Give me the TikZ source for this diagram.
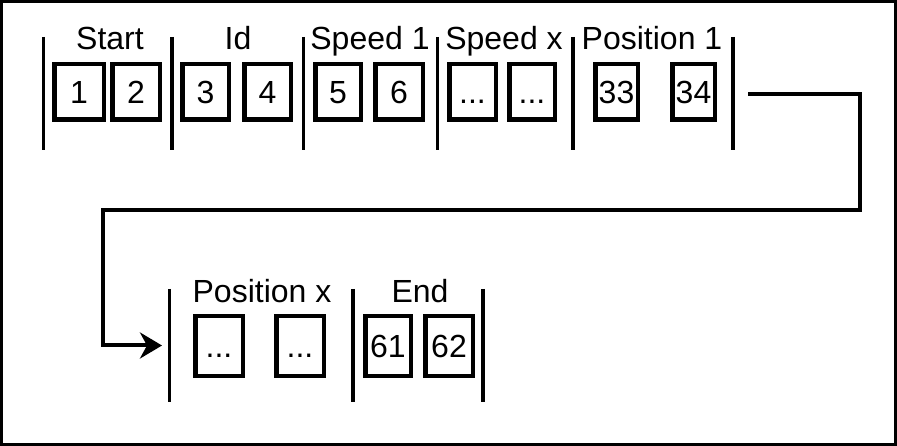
\documentclass[tikz,border=0pt]{standalone}
\usepackage{fontspec}
\setmainfont{Liberation Sans}
\usetikzlibrary{arrows.meta}
\begin{document}
\begin{tikzpicture}[x=1pt,y=-1pt,
  cell/.style={draw, line width=4.5pt, inner sep=0pt, minimum height=55.5pt,
    font=\fontsize{32}{36}\selectfont, text height=23pt, text depth=0pt},
  cellb/.style={cell, minimum height=59.5pt},
  lbl/.style={anchor=base, inner sep=0pt, font=\fontsize{32}{36}\selectfont},
  sep/.style={line width=3.5pt},
  flow/.style={line width=4pt, -{Stealth[length=22pt,width=26pt,inset=7pt]}}]
\useasboundingbox (0,0) rectangle (897,446);
\draw[line width=3pt] (1.5,1.5) rectangle (895.5,444.5);
% top row separators
\foreach \n/\x in {t0/43.5,t1/172,t2/303.5,t3/437.5,t4/573,t5/733}{
  \coordinate (\n a) at (\x,37);
  \coordinate (\n b) at (\x,150);
  \draw[sep] (\n a) -- (\n b);
}
% bottom row separators
\foreach \n/\x in {u0/169.5,u1/353,u2/483}{
  \coordinate (\n a) at (\x,289);
  \coordinate (\n b) at (\x,402);
  \draw[sep] (\n a) -- (\n b);
}
% top row labels
\node[lbl] (lstart) at (110,50) {Start};
\node[lbl] (lid) at (238,50) {Id};
\node[lbl] (lsp1) at (370,50) {Speed 1};
\node[lbl] (lspx) at (504,50) {Speed x};
\node[lbl] (lpos1) at (652,50) {Position 1};
% bottom row labels
\node[lbl] (lposx) at (262,303) {Position x};
\node[lbl] (lend) at (420,303) {End};
% top row cells
\node[cell, minimum width=49.5pt] (c1) at (79,92) {1};
\node[cell, minimum width=47.5pt] (c2) at (136,92) {2};
\node[cell, minimum width=46.5pt] (c3) at (205.5,92) {3};
\node[cell, minimum width=46.5pt] (c4) at (267.5,92) {4};
\node[cell, minimum width=45.5pt] (c5) at (338,92) {5};
\node[cell, minimum width=47.5pt] (c6) at (399,92) {6};
\node[cell, minimum width=46.5pt] (c7) at (472.5,92) {...};
\node[cell, minimum width=45.5pt] (c8) at (532,92) {...};
\node[cell, minimum width=42.5pt] (c33) at (616.5,92) {33};
\node[cell, minimum width=42.5pt] (c34) at (693.5,92) {34};
% bottom row cells
\node[cellb, minimum width=47.5pt] (d1) at (219,346) {...};
\node[cellb, minimum width=47.5pt] (d2) at (300,346) {...};
\node[cellb, minimum width=45.5pt] (c61) at (388,346) {61};
\node[cellb, minimum width=47.5pt] (c62) at (449,346) {62};
% connector
\coordinate (from) at (748,94);
\coordinate (to) at (162,345.5);
\draw[flow] (from) -- (860,94) -- (860,210) -- (103,210) -- (103,345.5) -- (to);
\end{tikzpicture}
\end{document}
